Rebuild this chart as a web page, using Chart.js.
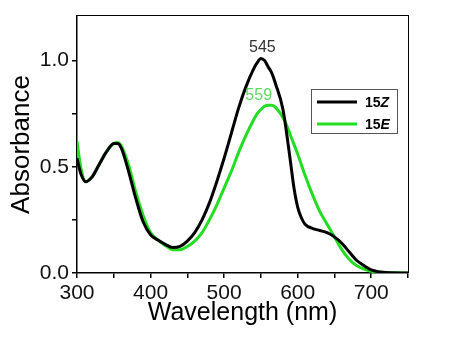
<!DOCTYPE html>
<html>
<head>
<meta charset="utf-8">
<script src="https://cdn.jsdelivr.net/npm/chart.js@4.4.0/dist/chart.umd.min.js"></script>
<style>
  html, body { margin: 0; padding: 0; background: #fff; }
  #wrap { position: relative; width: 460px; height: 350px; }
  #frame { position: absolute; left: 77px; top: 16px; width: 331px; height: 257px;
           box-sizing: border-box; border-top: 1.5px solid #000; border-right: 1.5px solid #000;
           pointer-events: none; }
</style>
</head>
<body>
<div id="wrap"><canvas id="uvChart"></canvas><div id="frame"></div></div>
<script>
// wavelength (nm) and absorbance
const wl15Z = [300, 305, 312, 320, 330, 340, 350, 355, 360, 370, 380, 390, 400, 410, 420, 430, 440, 450, 460, 470, 480, 490, 500, 510, 520, 530, 540, 545, 550, 555, 560, 565, 570, 580, 590, 595, 600, 605, 610, 620, 630, 640, 650, 660, 670, 680, 690, 700, 720, 750];
const abs15Z = [0.54, 0.47, 0.43, 0.45, 0.51, 0.57, 0.61, 0.61, 0.59, 0.48, 0.35, 0.24, 0.18, 0.155, 0.135, 0.12, 0.125, 0.15, 0.19, 0.25, 0.33, 0.43, 0.54, 0.66, 0.78, 0.88, 0.96, 0.99, 1.01, 1.0, 0.97, 0.94, 0.89, 0.77, 0.53, 0.4, 0.31, 0.26, 0.23, 0.21, 0.2, 0.19, 0.17, 0.14, 0.1, 0.06, 0.035, 0.015, 0.002, 0.0];

const wl15E = [300, 305, 312, 320, 330, 340, 350, 355, 360, 370, 380, 390, 400, 410, 420, 430, 440, 450, 460, 470, 480, 490, 500, 510, 520, 530, 540, 545, 550, 555, 560, 565, 570, 582, 590, 600, 610, 620, 630, 640, 650, 660, 670, 680, 690, 700, 720, 750];
const abs15E = [0.62, 0.50, 0.43, 0.45, 0.51, 0.57, 0.61, 0.615, 0.60, 0.51, 0.38, 0.27, 0.19, 0.155, 0.13, 0.11, 0.11, 0.125, 0.15, 0.19, 0.25, 0.32, 0.40, 0.48, 0.57, 0.65, 0.72, 0.75, 0.77, 0.785, 0.79, 0.79, 0.78, 0.72, 0.65, 0.56, 0.46, 0.37, 0.29, 0.23, 0.17, 0.11, 0.065, 0.035, 0.018, 0.008, 0.002, 0.0];

const xMin = 300, xMax = 750, yMin = 0, yMax = 1.21;

const peakLabels = [
  { text: '545', x: 552, y: 1.06, color: '#333333' },
  { text: '559', x: 547, y: 0.835, color: '#5fd95f' }
];

const toPoints = (xs, ys) => xs.map((x, i) => ({ x: x, y: ys[i] }));

const font = 'Liberation Sans, Arial, sans-serif';

const annotPlugin = {
  id: 'annot',
  afterDraw(chart) {
    const { ctx, scales } = chart;
    const xs = scales.x, ys = scales.y;
    const l = xs.getPixelForValue(xMin), r = xs.getPixelForValue(xMax);
    const t = ys.getPixelForValue(yMax), b = ys.getPixelForValue(yMin);

    // keep the frame overlay (top and right sides) on the scale edges
    if ([l, r, t, b].every(Number.isFinite)) {
      const fr = document.getElementById('frame');
      fr.style.left = l + 'px';
      fr.style.top = (t - 0.75) + 'px';
      fr.style.width = (r - l + 0.75) + 'px';
      fr.style.height = (b - t + 0.75) + 'px';
    }

    ctx.save();
    // peak annotations
    ctx.font = '16px ' + font;
    ctx.textAlign = 'center';
    ctx.textBaseline = 'middle';
    peakLabels.forEach(p => {
      ctx.fillStyle = p.color;
      ctx.fillText(p.text, xs.getPixelForValue(p.x), ys.getPixelForValue(p.y));
    });

    // legend box
    const bx = 311, by = 89, bw = 86, bh = 44;
    ctx.fillStyle = '#fff';
    ctx.fillRect(bx, by, bw, bh);
    ctx.strokeStyle = '#555';
    ctx.lineWidth = 1;
    ctx.strokeRect(bx + 0.5, by + 0.5, bw, bh);
    const items = [
      { color: '#000000', name: '15', tag: 'Z', y: by + 13 },
      { color: '#22dd22', name: '15', tag: 'E', y: by + 35 }
    ];
    items.forEach(it => {
      ctx.strokeStyle = it.color;
      ctx.lineWidth = 3;
      ctx.beginPath();
      ctx.moveTo(bx + 6, it.y);
      ctx.lineTo(bx + 46, it.y);
      ctx.stroke();
      ctx.fillStyle = '#000';
      ctx.textAlign = 'left';
      ctx.font = 'bold 14px ' + font;
      ctx.fillText(it.name, bx + 54, it.y + 1);
      const w = ctx.measureText(it.name).width;
      ctx.font = 'italic bold 14px ' + font;
      ctx.fillText(it.tag, bx + 54 + w, it.y + 1);
    });
    ctx.restore();
  }
};

new Chart(document.getElementById('uvChart'), {
  type: 'line',
  data: {
    datasets: [
      {
        label: '15Z',
        data: toPoints(wl15Z, abs15Z),
        borderColor: '#000000',
        borderWidth: 3,
        pointRadius: 0,
        cubicInterpolationMode: 'monotone',
        fill: false
      },
      {
        label: '15E',
        data: toPoints(wl15E, abs15E),
        borderColor: '#22dd22',
        borderWidth: 3,
        pointRadius: 0,
        cubicInterpolationMode: 'monotone',
        fill: false
      }
    ]
  },
  options: {
    responsive: true,
    maintainAspectRatio: false,
    animation: false,
    layout: { padding: { left: 0, top: 16, right: 52, bottom: 0 } },
    plugins: {
      legend: { display: false },
      tooltip: { enabled: false }
    },
    scales: {
      x: {
        type: 'linear',
        min: xMin,
        max: xMax,
        afterFit(scale) { scale.height = 77; },
        grid: { drawOnChartArea: false, drawTicks: true, tickLength: 5, color: '#000', lineWidth: 1.5 },
        border: { display: true, color: '#000', width: 1.5 },
        ticks: {
          stepSize: 50,
          autoSkip: false,
          maxRotation: 0,
          padding: 3,
          color: '#111',
          font: { family: font, size: 21 },
          callback: v => (v % 100 === 0 ? v : '')
        },
        title: {
          display: true,
          text: 'Wavelength (nm)',
          color: '#000',
          font: { family: font, size: 25 },
          padding: { top: 0, bottom: 22 }
        }
      },
      y: {
        min: yMin,
        max: yMax,
        afterFit(scale) { scale.width = 77; },
        afterBuildTicks(scale) { scale.ticks = scale.ticks.filter(t => t.value <= 1.0001); },
        grid: { drawOnChartArea: false, drawTicks: true, tickLength: 5, color: '#000', lineWidth: 1.5 },
        border: { display: true, color: '#000', width: 1.5 },
        ticks: {
          stepSize: 0.25,
          autoSkip: false,
          padding: 3,
          color: '#111',
          font: { family: font, size: 21 },
          callback: v => (Math.abs(v * 2 - Math.round(v * 2)) < 1e-6 ? v.toFixed(1) : '')
        },
        title: {
          display: true,
          text: 'Absorbance',
          color: '#000',
          font: { family: font, size: 26 },
          padding: { top: 6, bottom: 0 }
        }
      }
    }
  },
  plugins: [annotPlugin]
});
</script>
</body>
</html>
